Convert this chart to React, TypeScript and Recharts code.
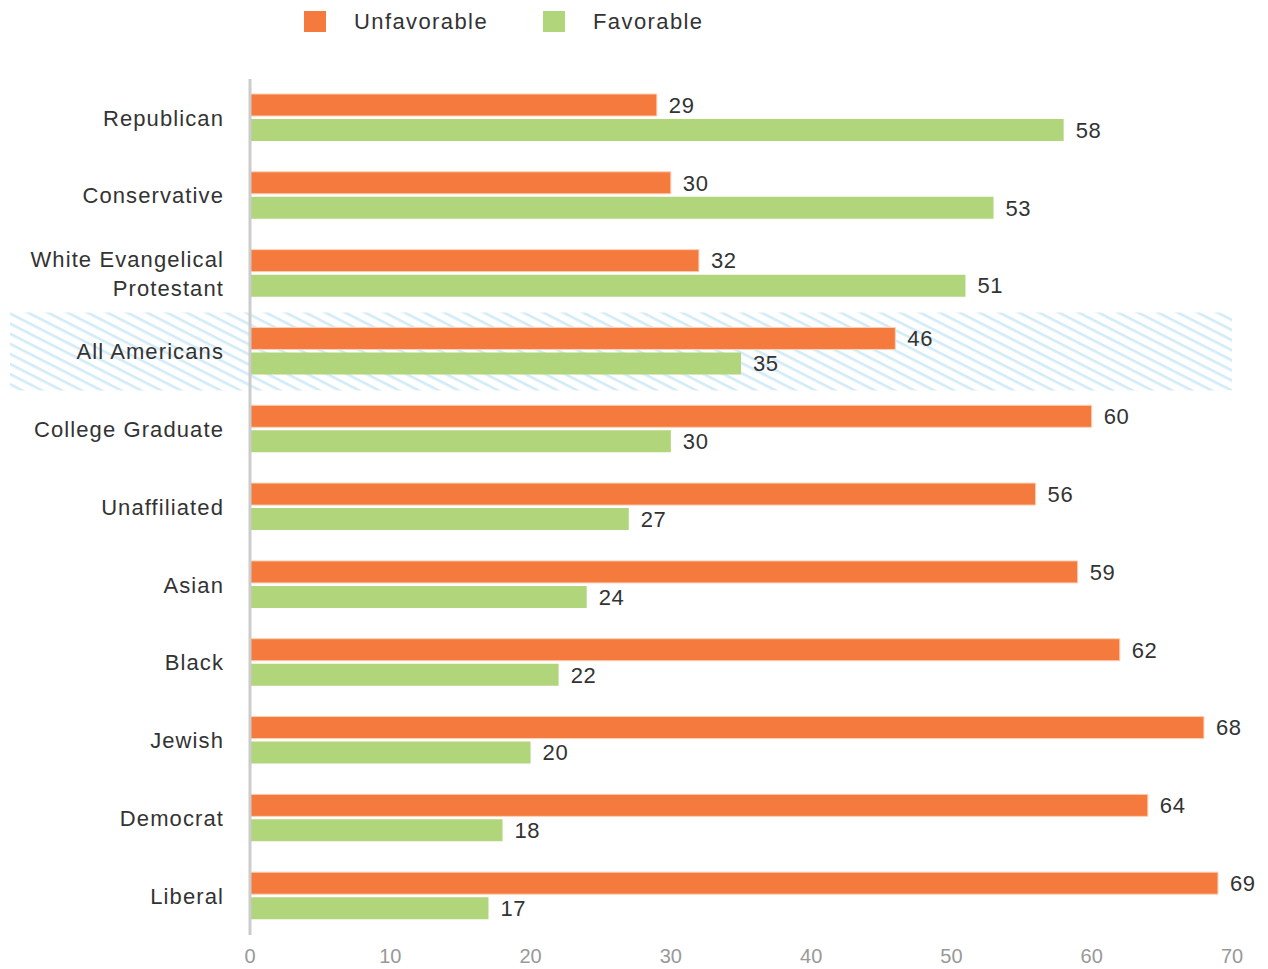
import { Bar, BarChart, LabelList, Legend, XAxis, YAxis } from 'recharts';

const categories = [
  'Republican',
  'Conservative',
  'White Evangelical Protestant',
  'All Americans',
  'College Graduate',
  'Unaffiliated',
  'Asian',
  'Black',
  'Jewish',
  'Democrat',
  'Liberal',
];
const unfavorable = [29, 30, 32, 46, 60, 56, 59, 62, 68, 64, 69];
const favorable = [58, 53, 51, 35, 30, 27, 24, 22, 20, 18, 17];
const xTicks = [0, 10, 20, 30, 40, 50, 60, 70];
const highlightCategory = 'All Americans';

const ORANGE = '#f47a3e';
const GREEN = '#b1d57a';
const FONT = '"Liberation Sans", Arial, sans-serif';

const data = categories.map((name, i) => ({
  name,
  unfavorable: unfavorable[i],
  favorable: favorable[i],
  band: name === highlightCategory ? xTicks[xTicks.length - 1] : 0,
}));

function CategoryTick({ x, y, payload }: { x?: number; y?: number; payload?: { value: string } }) {
  const label = payload?.value ?? '';
  let lines = [label];
  if (label.length > 20) {
    const cut = label.lastIndexOf(' ');
    lines = [label.slice(0, cut), label.slice(cut + 1)];
  }
  const lineHeight = 29;
  const startY = (y ?? 0) - ((lines.length - 1) * lineHeight) / 2;
  return (
    <text
      x={x}
      y={startY}
      textAnchor="end"
      fill="#333"
      fontSize={22}
      fontFamily={FONT}
      letterSpacing={1.1}
    >
      {lines.map((line, i) => (
        <tspan key={line} x={x} y={startY + i * lineHeight} dy="0.35em">
          {line}
        </tspan>
      ))}
    </text>
  );
}

// hatched strip behind the highlighted row, stretched left over the labels
function HatchBand(props: any) {
  if (!props.payload || props.payload.name !== highlightCategory) return null;
  const left = 2;
  return (
    <g>
      <defs>
        <pattern id="hatch" width="10" height="9" patternUnits="userSpaceOnUse" patternTransform="rotate(27)">
          <rect x="0" y="0" width="10" height="2.6" fill="#d2ebf8" />
        </pattern>
      </defs>
      <rect x={left} y={props.y} width={props.x + props.width - left} height={props.height} fill="url(#hatch)" />
    </g>
  );
}

function LegendContent() {
  const items = [
    { label: 'Unfavorable', color: ORANGE },
    { label: 'Favorable', color: GREEN },
  ];
  return (
    <div style={{ display: 'flex', alignItems: 'center', paddingLeft: 296, paddingTop: 3, fontFamily: FONT }}>
      {items.map((item) => (
        <div key={item.label} style={{ display: 'flex', alignItems: 'center', marginRight: 55 }}>
          <span style={{ width: 22, height: 21, background: item.color, marginRight: 28, display: 'inline-block' }} />
          <span style={{ fontSize: 22, color: '#333', letterSpacing: 1.4, lineHeight: '21px' }}>{item.label}</span>
        </div>
      ))}
    </div>
  );
}

export default function App() {
  return (
    <div style={{ width: 1260, height: 961, fontFamily: FONT }}>
      <BarChart
        width={1260}
        height={961}
        data={data}
        layout="vertical"
        margin={{ top: 0, right: 36, bottom: 4, left: 0 }}
        barCategoryGap={0}
        barGap={3}
      >
        <Legend verticalAlign="top" align="left" height={71} content={<LegendContent />} />
        <XAxis
          type="number"
          domain={[0, 70]}
          ticks={xTicks}
          axisLine={false}
          tickLine={false}
          tickSize={0}
          tickMargin={14}
          height={30}
          tick={{ fill: '#999', fontSize: 20, fontFamily: FONT }}
        />
        <YAxis yAxisId="band" type="category" dataKey="name" hide />
        <Bar yAxisId="band" dataKey="band" shape={<HatchBand />} isAnimationActive={false} />
        <Bar dataKey="unfavorable" fill={ORANGE} stroke="#fbd0b4" strokeWidth={1} barSize={22} isAnimationActive={false}>
          <LabelList dataKey="unfavorable" position="right" offset={12} fill="#333" fontSize={22} fontFamily={FONT} letterSpacing={0.6} />
        </Bar>
        <Bar dataKey="favorable" fill={GREEN} barSize={22} isAnimationActive={false}>
          <LabelList dataKey="favorable" position="right" offset={12} fill="#333" fontSize={22} fontFamily={FONT} letterSpacing={0.6} />
        </Bar>
        <YAxis
          type="category"
          dataKey="name"
          width={242}
          axisLine={{ stroke: '#cccccc', strokeWidth: 3 }}
          tickLine={false}
          tickSize={0}
          tickMargin={26}
          interval={0}
          tick={<CategoryTick />}
        />
      </BarChart>
    </div>
  );
}
